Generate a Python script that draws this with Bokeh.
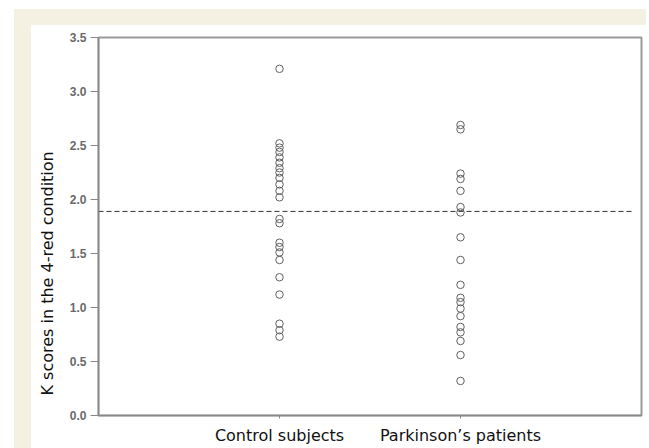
from bokeh.plotting import figure
from bokeh.models import FixedTicker, Title, ColumnDataSource
from bokeh.embed import file_html
from bokeh.resources import INLINE

# ---- data ----
groups = ["Control subjects", "Parkinson\u2019s patients"]
group_pos = [1, 2]
control_scores = [3.21, 2.52, 2.48, 2.44, 2.39, 2.34, 2.29, 2.25, 2.20, 2.14, 2.08, 2.02,
                  1.82, 1.78, 1.60, 1.56, 1.51, 1.44, 1.28, 1.12, 0.85, 0.79, 0.73]
parkinson_scores = [2.69, 2.65, 2.24, 2.19, 2.08, 1.93, 1.88, 1.65, 1.44, 1.21, 1.09,
                    1.05, 0.99, 0.92, 0.82, 0.77, 0.69, 0.56, 0.32]
threshold = 1.89
threshold_x = [0, 2.95]
y_ticks = [0.0, 0.5, 1.0, 1.5, 2.0, 2.5, 3.0, 3.5]
y_title = "K scores in the 4-red condition"

CREAM = "#F4F0E2"

W, H = 649, 448
FL, FB = 98, 33  # frame left / bottom borders
p = figure(width=W, height=H, output_backend="svg", toolbar_location=None,
           x_range=(0, 3), y_range=(0, 3.5),
           min_border_left=FL, min_border_right=8, min_border_top=37, min_border_bottom=FB)
p.border_fill_color = None
p.background_fill_color = "white"
p.styles = {
    "background": (f"linear-gradient(#ffffff,#ffffff) 31px 25px / 100% 100% no-repeat, "
                   f"linear-gradient({CREAM},{CREAM}) 14px 9px / 632px 100% no-repeat, #ffffff")
}
p.outline_line_color = "#9a9a9a"
p.outline_line_width = 2
p.xgrid.visible = False
p.ygrid.visible = False

xs = [group_pos[0]] * len(control_scores) + [group_pos[1]] * len(parkinson_scores)
ys = control_scores + parkinson_scores
src = ColumnDataSource(dict(x=xs, y=ys))
p.scatter("x", "y", source=src, size=7.5, fill_color=None, line_color="#606060", line_width=1)

p.line(threshold_x, [threshold, threshold], line_color="#333333", line_width=1,
       line_dash="5 3")

# y axis
p.yaxis.ticker = FixedTicker(ticks=y_ticks)
p.yaxis.major_label_overrides = {t: f"{t:.1f}" for t in y_ticks}
p.yaxis.minor_tick_line_color = None
p.yaxis.major_tick_in = 0
p.yaxis.major_tick_out = 8
p.yaxis.major_tick_line_color = "#888888"
p.yaxis.axis_line_color = "#888888"
p.yaxis.axis_line_width = 1.5
p.yaxis.major_label_text_font = "Liberation Sans"
p.yaxis.major_label_text_font_size = "12px"
p.yaxis.major_label_text_font_style = "bold"
p.yaxis.major_label_text_color = "#6a6a6a"
p.yaxis.major_label_standoff = 4

# x axis
p.xaxis.ticker = FixedTicker(ticks=group_pos)
p.xaxis.major_label_overrides = {gp: g for gp, g in zip(group_pos, groups)}
p.xaxis.minor_tick_line_color = None
p.xaxis.major_tick_in = 0
p.xaxis.major_tick_out = 3
p.xaxis.major_tick_line_color = "#888888"
p.xaxis.axis_line_color = "#888888"
p.xaxis.axis_line_width = 1.5
p.xaxis.major_label_text_font = "DejaVu Sans"
p.xaxis.major_label_text_font_size = "16px"
p.xaxis.major_label_text_color = "#111111"
p.xaxis.major_label_standoff = 7

# y title as a left-side Title, aligned toward the bottom
p.add_layout(Title(text=y_title, align="left", offset=20, standoff=19,
                   text_font="DejaVu Sans", text_font_size="16px",
                   text_font_style="normal", text_color="#111111"), "left")

open("out.html", "w").write(file_html(p, INLINE))
